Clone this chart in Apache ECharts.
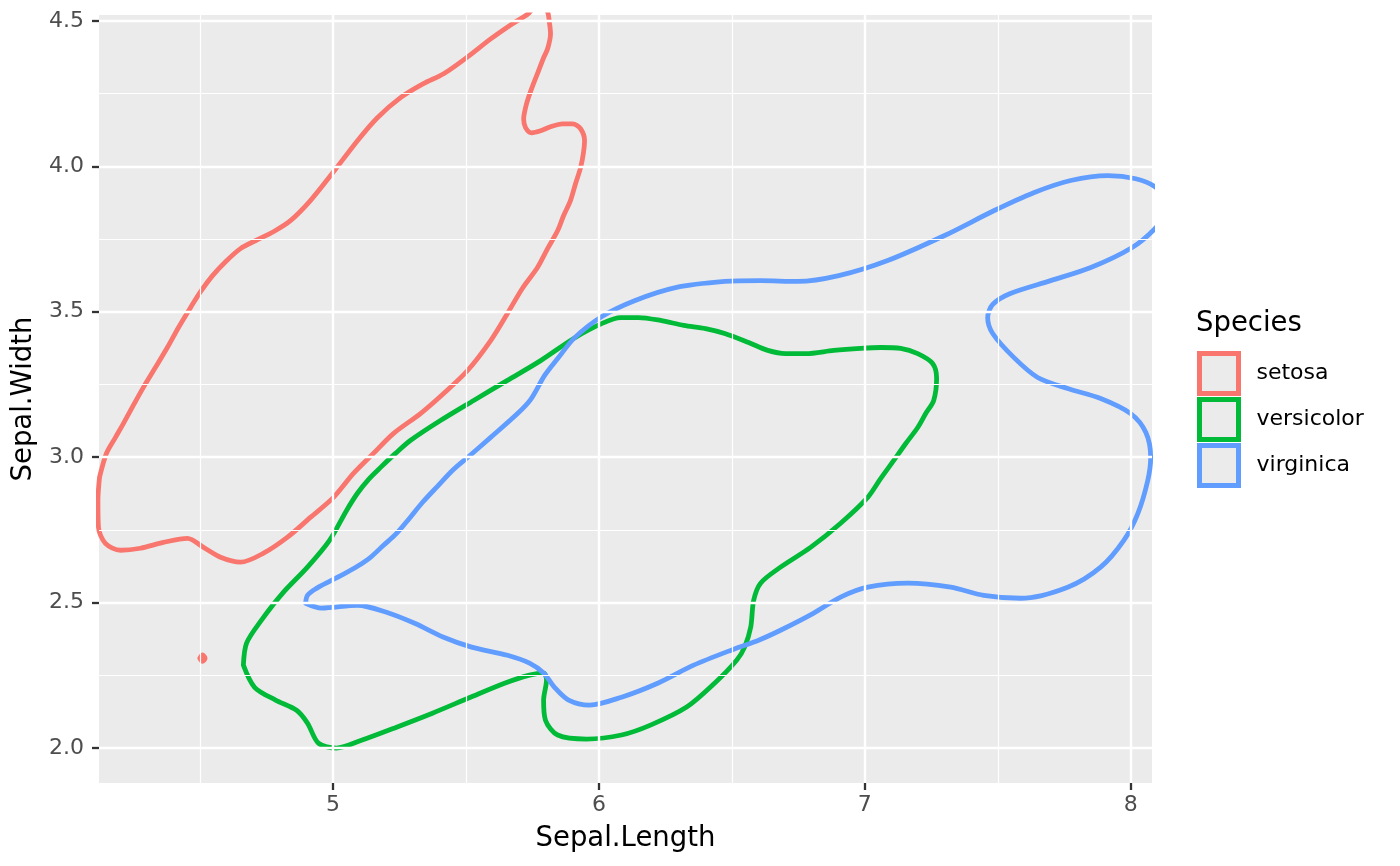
<!DOCTYPE html>
<html>
<head>
<meta charset="utf-8">
<script src="https://cdn.jsdelivr.net/npm/echarts@6/dist/echarts.min.js"></script>
<style>html,body{margin:0;padding:0;background:#ffffff}#chart{width:1400px;height:866px}</style>
</head>
<body>
<div id="chart"></div>
<script>
const speciesNames = ['setosa', 'versicolor', 'virginica'];
const speciesColors = ['#F8766D', '#00BA38', '#619CFF'];
const xTicks = [5, 6, 7, 8];
const xMinorGrid = [4.5, 5.5, 6.5, 7.5];
const yTicks = [2.0, 2.5, 3.0, 3.5, 4.0, 4.5];
const yMinorGrid = [2.25, 2.75, 3.25, 3.75, 4.25];

const setosaX = [4.122,4.148,4.182,4.212,4.249,4.287,4.332,4.377,4.419,4.464,4.502,4.547,4.596,4.652,4.708,4.776,4.840,4.915,5.002,5.092,5.167,5.254,5.340,5.416,5.506,5.593,5.668,5.735,5.770,5.805,5.814,5.818,5.807,5.792,5.773,5.754,5.735,5.724,5.717,5.724,5.747,5.781,5.818,5.863,5.901,5.931,5.946,5.942,5.931,5.912,5.893,5.867,5.845,5.807,5.769,5.712,5.656,5.593,5.506,5.416,5.329,5.228,5.152,5.077,5.002,4.915,4.829,4.739,4.652,4.577,4.513,4.453,4.362,4.276,4.201,4.144,4.118,4.116,4.122];
const setosaY = [2.931,3.013,3.068,3.116,3.178,3.240,3.308,3.377,3.446,3.514,3.569,3.624,3.672,3.717,3.744,3.775,3.813,3.882,3.981,4.088,4.167,4.236,4.284,4.318,4.376,4.438,4.486,4.525,4.560,4.535,4.493,4.455,4.404,4.373,4.328,4.284,4.236,4.201,4.163,4.133,4.115,4.122,4.136,4.146,4.146,4.129,4.088,4.047,3.995,3.940,3.882,3.830,3.779,3.717,3.652,3.580,3.494,3.401,3.298,3.219,3.150,3.082,3.013,2.944,2.862,2.793,2.725,2.670,2.639,2.656,2.690,2.721,2.707,2.687,2.680,2.704,2.759,2.852,2.931];
const setosaDotX = [4.499,4.509,4.519,4.509,4.499];
const setosaDotY = [2.309,2.320,2.309,2.298,2.309];

const versicolorX = [4.663,4.675,4.731,4.810,4.904,4.987,5.051,5.092,5.134,5.179,5.235,5.292,5.404,5.529,5.656,5.781,5.905,6.010,6.082,6.149,6.232,6.319,6.401,6.473,6.563,6.635,6.702,6.778,6.883,6.984,7.060,7.135,7.199,7.255,7.270,7.259,7.229,7.199,7.154,7.109,7.060,7.011,6.909,6.796,6.683,6.608,6.582,6.571,6.548,6.518,6.435,6.330,6.194,6.085,5.954,5.845,5.799,5.792,5.803,5.792,5.739,5.645,5.510,5.374,5.239,5.107,5.013,4.945,4.904,4.863,4.784,4.705,4.663];
const versicolorY = [2.285,2.361,2.440,2.532,2.622,2.714,2.817,2.876,2.924,2.965,3.013,3.058,3.126,3.195,3.264,3.332,3.408,3.459,3.480,3.480,3.470,3.453,3.442,3.425,3.394,3.367,3.356,3.356,3.367,3.374,3.377,3.374,3.356,3.322,3.271,3.195,3.150,3.102,3.047,2.989,2.927,2.862,2.773,2.690,2.622,2.567,2.508,2.416,2.347,2.302,2.223,2.141,2.079,2.045,2.031,2.045,2.096,2.165,2.234,2.258,2.251,2.223,2.172,2.120,2.072,2.027,2.000,2.017,2.086,2.130,2.165,2.209,2.285];

const virginicaX = [4.897,4.904,4.938,4.987,5.040,5.092,5.141,5.190,5.239,5.284,5.337,5.393,5.450,5.506,5.593,5.694,5.743,5.796,5.845,5.909,6.010,6.134,6.288,6.473,6.608,6.747,6.902,7.086,7.300,7.485,7.635,7.774,7.914,8.019,8.090,8.160,8.090,8.004,7.850,7.699,7.545,7.481,7.462,7.481,7.560,7.650,7.763,7.887,8.000,8.057,8.075,8.064,8.027,7.974,7.887,7.763,7.586,7.447,7.323,7.161,7.011,6.909,6.808,6.683,6.601,6.507,6.356,6.221,6.085,5.965,5.886,5.833,5.792,5.739,5.656,5.521,5.416,5.307,5.201,5.092,4.957,4.897];
const virginicaY = [2.498,2.525,2.549,2.573,2.598,2.625,2.656,2.697,2.738,2.786,2.845,2.900,2.955,2.999,3.068,3.150,3.198,3.281,3.339,3.411,3.483,3.538,3.583,3.604,3.607,3.604,3.624,3.676,3.762,3.847,3.909,3.951,3.968,3.957,3.930,3.865,3.785,3.720,3.652,3.607,3.562,3.525,3.480,3.425,3.343,3.274,3.236,3.202,3.150,3.085,2.999,2.920,2.807,2.714,2.622,2.553,2.515,2.525,2.553,2.567,2.553,2.519,2.464,2.405,2.371,2.340,2.285,2.223,2.175,2.148,2.165,2.209,2.258,2.292,2.319,2.347,2.381,2.429,2.467,2.491,2.481,2.498];

const FONT = '"DejaVu Sans", sans-serif';
function pairs(xs, ys) { return xs.map(function (x, i) { return [x, ys[i]]; }); }

const gridLineData = []
  .concat(xMinorGrid.map(function (v) { return { xAxis: v, lineStyle: { width: 1.2 } }; }))
  .concat(yMinorGrid.map(function (v) { return { yAxis: v, lineStyle: { width: 1.2 } }; }))
  .concat(xTicks.map(function (v) { return { xAxis: v, lineStyle: { width: 2.4 } }; }))
  .concat(yTicks.map(function (v) { return { yAxis: v, lineStyle: { width: 2.4 } }; }));

function contour(name, color, xs, ys) {
  return {
    type: 'line', name: name, data: pairs(xs, ys), z: 3,
    showSymbol: false, symbol: 'none', smooth: 0.3, clip: true, silent: true,
    lineStyle: { color: color, width: 4.8, cap: 'round', join: 'round' },
    itemStyle: { color: color }
  };
}

const chart = echarts.init(document.getElementById('chart'), null, { renderer: 'canvas' });
chart.setOption({
  animation: false,
  backgroundColor: '#ffffff',
  grid: { left: 99, top: 15, right: 248, bottom: 83, show: true, backgroundColor: '#EBEBEB', borderWidth: 0, outerBoundsMode: 'none' },
  xAxis: {
    type: 'value', min: 4.12, max: 8.08,
    name: 'Sepal.Length', nameLocation: 'middle', nameGap: 42,
    nameTextStyle: { fontFamily: FONT, fontSize: 27.5, color: '#000000' },
    axisLine: { show: false },
    axisTick: { show: true, length: 7, customValues: xTicks, lineStyle: { color: '#333333', width: 2.3 } },
    axisLabel: { customValues: xTicks, margin: 11, fontFamily: FONT, fontSize: 22, color: '#4D4D4D' },
    splitLine: { show: false }
  },
  yAxis: {
    type: 'value', min: 1.88, max: 4.52,
    name: 'Sepal.Width', nameLocation: 'middle', nameGap: 50,
    nameTextStyle: { fontFamily: FONT, fontSize: 27.5, color: '#000000' },
    axisLine: { show: false },
    axisTick: { show: true, length: 7, customValues: yTicks, lineStyle: { color: '#333333', width: 2.3 } },
    axisLabel: { customValues: yTicks, margin: 15, fontFamily: FONT, fontSize: 22, color: '#4D4D4D',
      formatter: function (v) { return Number(v).toFixed(1); } },
    splitLine: { show: false }
  },
  legend: {
    orient: 'vertical', left: 1197, top: 351, padding: 0,
    itemWidth: 39, itemHeight: 40, itemGap: 1,
    selectedMode: false,
    textStyle: { fontFamily: FONT, fontSize: 22, color: '#000000', padding: [0, 0, 0, 13] },
    data: speciesNames.map(function (n, i) {
      return { name: n, icon: 'rect', itemStyle: { color: '#EBEBEB', borderColor: speciesColors[i], borderWidth: 5 } };
    })
  },
  graphic: [{
    type: 'text', x: 1196, y: 324, silent: true,
    style: { text: 'Species', fontFamily: FONT, fontSize: 27.5, fill: '#000000', verticalAlign: 'middle', align: 'left' }
  }],
  series: [
    {
      type: 'line', name: 'grid', data: [[4.12, 1.88]], z: 1, silent: true,
      symbol: 'none', showSymbol: false, lineStyle: { opacity: 0 },
      markLine: { silent: true, symbol: ['none', 'none'], label: { show: false }, animation: false,
        emphasis: { disabled: true },
        lineStyle: { color: '#ffffff', type: 'solid' }, data: gridLineData }
    },
    contour(speciesNames[0], speciesColors[0], setosaX, setosaY),
    contour(speciesNames[0], speciesColors[0], setosaDotX, setosaDotY),
    contour(speciesNames[1], speciesColors[1], versicolorX, versicolorY),
    contour(speciesNames[2], speciesColors[2], virginicaX, virginicaY)
  ]
});
</script>
</body>
</html>
